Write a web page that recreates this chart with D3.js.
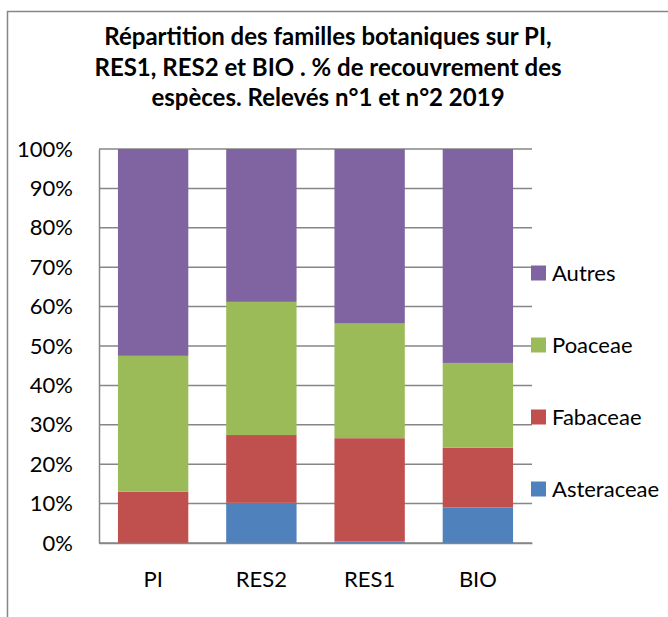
<!DOCTYPE html>
<html>
<head>
<meta charset="utf-8">
<script src="https://cdn.jsdelivr.net/npm/d3@7"></script>
<style>
  body { margin: 0; background: #fff; }
  svg text { font-family: Lato, "Open Sans", sans-serif; fill: #000; }
</style>
</head>
<body>
<svg id="chart" width="668" height="617"></svg>
<script>
// site categories (x axis order)
const sites = ['PI', 'RES2', 'RES1', 'BIO'];
// families, bottom to top of the stack
const families = ['Asteraceae', 'Fabaceae', 'Poaceae', 'Autres'];
// % cover per family, same order as sites
const asteraceae = [0, 10.2, 0.4, 9.0];
const fabaceae = [13.0, 17.2, 26.2, 15.2];
const poaceae = [34.5, 33.8, 29.1, 21.5];
const autres = [52.5, 38.8, 44.3, 54.3];
const yTicks = [0, 10, 20, 30, 40, 50, 60, 70, 80, 90, 100];
const titleLines = [
    'Répartition des familles botaniques sur PI,',
    'RES1, RES2 et BIO . % de recouvrement des',
    'espèces. Relevés n°1 et n°2 2019'
];

const colors = {
    Asteraceae: '#4f81bd',
    Fabaceae: '#c0504d',
    Poaceae: '#9bbb59',
    Autres: '#8064a2'
};

const svg = d3.select('#chart');

// outer chart border
svg.append('rect')
    .attr('x', 7.5).attr('y', 11.5)
    .attr('width', 700).attr('height', 700)
    .attr('fill', 'none')
    .attr('stroke', '#868686')
    .attr('stroke-width', 1.5);

svg.append('g').selectAll('text')
    .data(titleLines)
    .join('text')
    .attr('x', 328)
    .attr('y', (d, i) => 45 + i * 30.5)
    .attr('text-anchor', 'middle')
    .attr('font-size', 24)
    .attr('font-weight', 'bold')
    .text(d => d);

const plotLeft = 99, plotRight = 532, plotTop = 149, plotBottom = 543;

const x = d3.scaleBand().domain(sites).range([plotLeft, plotRight]).paddingInner(0.35).paddingOuter(0.175);
const y = d3.scaleLinear().domain([0, 100]).range([plotBottom, plotTop]);

const rows = sites.map((s, i) => ({
    site: s,
    Asteraceae: asteraceae[i],
    Fabaceae: fabaceae[i],
    Poaceae: poaceae[i],
    Autres: autres[i]
}));
const series = d3.stack().keys(families)(rows);

// gridlines
svg.append('g').selectAll('line')
    .data(yTicks)
    .join('line')
    .attr('x1', plotLeft).attr('x2', plotRight)
    .attr('y1', d => y(d)).attr('y2', d => y(d))
    .attr('stroke', '#868686')
    .attr('stroke-width', 1.5);

// y axis
const yAxis = svg.append('g')
    .attr('transform', `translate(${plotLeft},0)`)
    .call(d3.axisLeft(y).tickValues(yTicks).tickFormat(d => d + '%').tickSize(0).tickPadding(26));
yAxis.select('.domain').attr('stroke', '#868686').attr('stroke-width', 1.5);
yAxis.selectAll('text').attr('font-size', 22).attr('font-family', 'Lato, sans-serif');

// bars
svg.append('g').selectAll('g')
    .data(series)
    .join('g')
    .attr('fill', d => colors[d.key])
    .selectAll('rect')
    .data(d => d)
    .join('rect')
    .attr('x', d => x(d.data.site))
    .attr('width', x.bandwidth())
    .attr('y', d => y(d[1]))
    .attr('height', d => y(d[0]) - y(d[1]));

// x axis
const xAxis = svg.append('g')
    .attr('transform', `translate(0,${plotBottom})`)
    .call(d3.axisBottom(x).tickSize(0).tickPadding(28));
xAxis.select('.domain').attr('stroke', '#868686').attr('stroke-width', 1.5);
xAxis.selectAll('text').attr('font-size', 22).attr('font-family', 'Lato, sans-serif');

// legend, top item is Autres
const legend = svg.append('g').selectAll('g')
    .data(families.slice().reverse())
    .join('g')
    .attr('transform', (d, i) => `translate(531,${273 + i * 72})`);
legend.append('rect')
    .attr('x', 0).attr('y', -7.5)
    .attr('width', 15).attr('height', 15)
    .attr('fill', d => colors[d]);
legend.append('text')
    .attr('x', 21).attr('y', 0)
    .attr('dy', '0.35em')
    .attr('font-size', 22)
    .text(d => d);
</script>
</body>
</html>
